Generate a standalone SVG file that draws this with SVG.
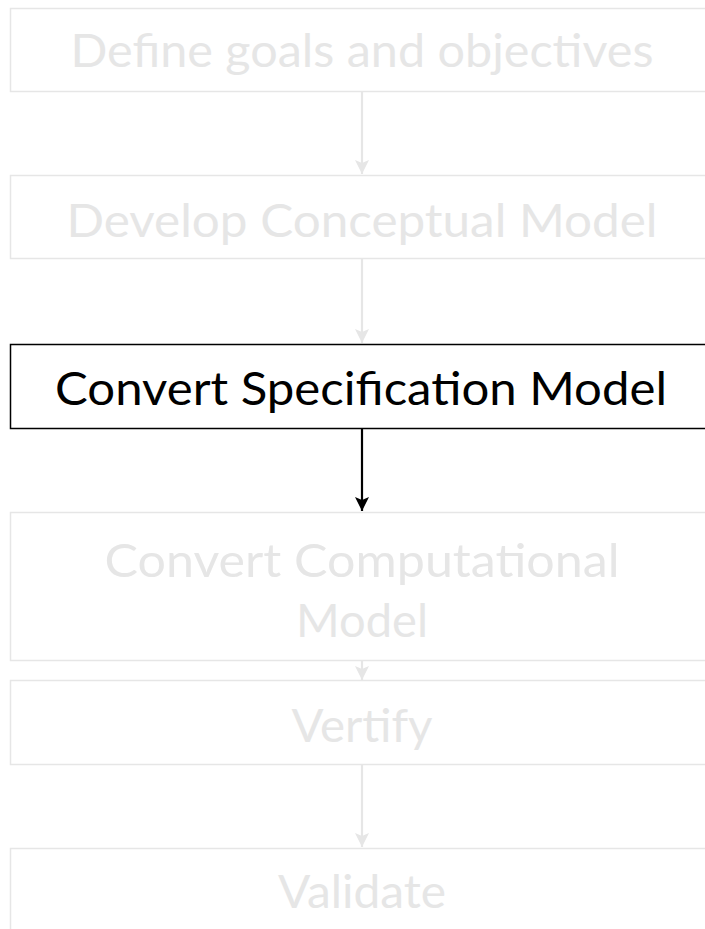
<svg xmlns="http://www.w3.org/2000/svg" width="705" height="929" viewBox="0 0 705 929">
<style>
.box{fill:#fff;stroke:#e6e6e6;stroke-width:1.5}
.box.on{stroke:#000}
.t{font-family:Lato,"Open Sans","Liberation Sans",sans-serif;font-size:46px;fill:#e6e6e6;text-anchor:middle}
.t.on{fill:#000}
.c{stroke:#e6e6e6;stroke-width:2.2;fill:none}
.c.on{stroke:#000}
</style>
<defs>
<marker id="ag" viewBox="0 0 14 14" refX="7" refY="14" markerWidth="14" markerHeight="14" markerUnits="userSpaceOnUse">
<path d="M0,0 L7,3 L14,0 L7,14 Z" fill="#e6e6e6"/>
</marker>
<marker id="ab" viewBox="0 0 14 14" refX="7" refY="14" markerWidth="14" markerHeight="14" markerUnits="userSpaceOnUse">
<path d="M0,0 L7,3 L14,0 L7,14 Z" fill="#000"/>
</marker>
</defs>
<rect width="705" height="929" fill="#fff"/>
<g id="connectors">
<line class="c" x1="362" y1="91" x2="362" y2="174" marker-end="url(#ag)"/>
<line class="c" x1="362" y1="258" x2="362" y2="343" marker-end="url(#ag)"/>
<line class="c on" x1="362" y1="428" x2="362" y2="511" marker-end="url(#ab)"/>
<line class="c" x1="362" y1="660" x2="362" y2="680" marker-end="url(#ag)"/>
<line class="c" x1="362" y1="764" x2="362" y2="847" marker-end="url(#ag)"/>
</g>
<g id="n1"><rect class="box" x="10.5" y="8.5" width="705" height="83"/><text class="t" x="362" y="67" textLength="583" lengthAdjust="spacingAndGlyphs">Define goals and objectives</text></g>
<g id="n2"><rect class="box" x="10.5" y="175.5" width="705" height="83"/><text class="t" x="362" y="237" textLength="591" lengthAdjust="spacingAndGlyphs">Develop Conceptual Model</text></g>
<g id="n3"><rect class="box on" x="10.5" y="344.5" width="705" height="84"/><text class="t on" x="361" y="405" textLength="612" lengthAdjust="spacingAndGlyphs">Convert Specification Model</text></g>
<g id="n4"><rect class="box" x="10.5" y="512.5" width="705" height="148"/><text class="t" x="362" y="577" textLength="515" lengthAdjust="spacingAndGlyphs">Convert Computational</text><text class="t" x="362" y="637" textLength="132" lengthAdjust="spacingAndGlyphs">Model</text></g>
<g id="n5"><rect class="box" x="10.5" y="680.5" width="705" height="84"/><text class="t" x="362" y="742" textLength="141" lengthAdjust="spacingAndGlyphs">Vertify</text></g>
<g id="n6"><rect class="box" x="10.5" y="848.5" width="705" height="100"/><text class="t" x="362" y="908" textLength="168" lengthAdjust="spacingAndGlyphs">Validate</text></g>
</svg>
